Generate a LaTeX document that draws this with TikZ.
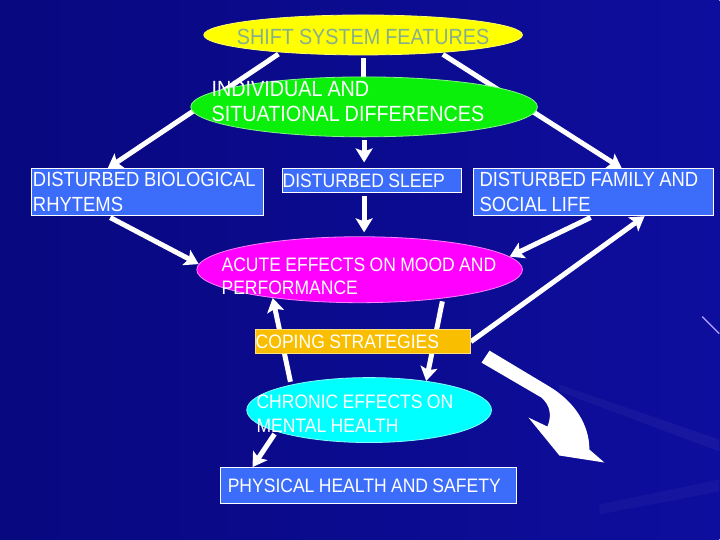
\documentclass[tikz,border=0pt]{standalone}
\usepackage{fontspec}
\setmainfont{Liberation Sans}[FakeStretch=0.9, WordSpace=0.9]
\usetikzlibrary{shapes.geometric, positioning, arrows.meta}

\definecolor{slidebg}{RGB}{8,8,128}
\definecolor{slidebgright}{RGB}{14,14,158}
\definecolor{shiftyellow}{RGB}{255,255,0}
\definecolor{diffgreen}{RGB}{10,240,10}
\definecolor{acutemagenta}{RGB}{255,0,255}
\definecolor{chroniccyan}{RGB}{0,255,255}
\definecolor{cardblue}{RGB}{60,108,250}
\definecolor{copingorange}{RGB}{250,190,0}
\definecolor{titlegreen}{RGB}{135,175,140}
\definecolor{streak}{RGB}{170,150,255}

\pgfdeclarelayer{background}
\pgfdeclarelayer{lines}
\pgfsetlayers{background,lines,main}

\begin{document}
\begin{tikzpicture}[
        x=1pt, y=-1pt,
        oval/.style={ellipse, line width=0.8pt, inner sep=0pt},
        ovaltext/.style={text=white, align=left, inner sep=0pt, anchor=west},
        titletext/.style={text=titlegreen, inner sep=0pt, font=\fontsize{22}{25}\selectfont},
        card/.style={rectangle, draw=white, line width=0.8pt, fill=cardblue, text=white, align=flush left, inner ysep=0pt, font=\fontsize{19.5}{24.5}\selectfont},
        bigfont/.style={font=\fontsize{20.5}{25}\selectfont},
        arrow/.style={-{Stealth[length=14pt, width=17pt, inset=3pt]}, line width=5pt, white, shorten <=3pt},
        link/.style={line width=5pt, white}
    ]
%
    % Slide
    \begin{pgfonlayer}{background}
    \shade[left color=slidebg, right color=slidebgright] (0,0) rectangle (720,540);
    \fill[white, opacity=0.04] (560,385) -- (720,440) -- (720,452) -- (560,392) -- cycle;
    \fill[white, opacity=0.03] (600,505) -- (720,480) -- (720,492) -- (600,515) -- cycle;
    \draw[streak, line width=1.5pt] (703,317) -- (720,334);
    \end{pgfonlayer}
    \useasboundingbox (0,0) rectangle (720,540);
%
    % Nodes
    \node[oval, fill=shiftyellow, draw=shiftyellow!60!white, minimum width=319pt, minimum height=40pt,
        label={[titletext, yshift=-2pt]center:SHIFT SYSTEM FEATURES}] (features) at (363.5,35) {};
    \node[oval, fill=diffgreen, draw=diffgreen!50!white, minimum width=347pt, minimum height=60pt,
        label={[ovaltext, xshift=21pt, yshift=5.2pt, font=\fontsize{22}{25}\selectfont]west:INDIVIDUAL AND\\SITUATIONAL DIFFERENCES}] (differences) at (364.5,107) {};
%
    \node[card, bigfont, minimum width=233pt, minimum height=47pt, text width=229pt, inner xsep=2pt] (bio) at (147.5,192.5) {DISTURBED BIOLOGICAL\\RHYTEMS};
    \node[card, minimum width=179pt, minimum height=24pt, text width=179pt, inner xsep=0pt] (sleep) at (372.5,181) {DISTURBED SLEEP};
    \node[card, bigfont, minimum width=240pt, minimum height=47pt, text width=228pt, inner xsep=6pt] (family) at (594,192.5) {DISTURBED FAMILY AND\\SOCIAL LIFE};
%
    \node[oval, fill=acutemagenta, draw=acutemagenta!50!white, minimum width=326pt, minimum height=66pt,
        label={[ovaltext, xshift=25pt, yshift=-6.7pt, font=\fontsize{19.5}{23}\selectfont]west:ACUTE EFFECTS ON MOOD AND\\PERFORMANCE}] (acute) at (360,270) {};
    \node[card, fill=copingorange, draw=copingorange!50!white, minimum width=215pt, minimum height=24pt, text width=215pt, inner xsep=0pt] (coping) at (363.5,342) {COPING STRATEGIES};
    \node[oval, fill=chroniccyan, draw=chroniccyan!50!white, minimum width=245pt, minimum height=65pt,
        label={[ovaltext, xshift=10pt, yshift=-3.7pt, font=\fontsize{19.5}{24}\selectfont]west:CHRONIC EFFECTS ON\\MENTAL HEALTH}] (chronic) at (369.5,410.5) {};
    \node[card, minimum width=296pt, minimum height=36pt, text width=282pt, inner xsep=7pt] (physical) at (369,486) {PHYSICAL HEALTH AND SAFETY};
%
    % Arrows
    \begin{pgfonlayer}{lines}
    \draw[arrow] (features.192) -- (bio.149);
    \draw[arrow] (features.347) -- (family.40);
    \draw[link, shorten <=3pt] (features.south) -- (features.south |- differences.north);
    \draw[arrow, shorten >=6pt] (differences.south) -- (differences.south |- sleep.north);
    \draw[arrow, shorten >=4pt] (differences.south |- sleep.south) -- (differences.south |- acute.north);
    \draw[arrow] (bio.211) -- (acute.178);
    \draw[arrow] (family.south) -- (acute.5);
    \draw[arrow, shorten <=0pt] (coping.east) -- (family.335);
    \draw[arrow] (chronic.162) -- (acute.198);
    \draw[arrow] (acute.341) -- (chronic.27);
    \draw[arrow] (chronic.193) -- (physical.171);
    \end{pgfonlayer}
%
    % Bent block arrow
    \fill[white] (490,351) -- (550,387) .. controls (575,402) and (590,425) .. (590,450)
        -- (605,463) -- (560,456) -- (529,418) -- (548,427)
        .. controls (553,415) and (550,405) .. (542,398) -- (482,363) -- cycle;
%
\end{tikzpicture}
\end{document}
